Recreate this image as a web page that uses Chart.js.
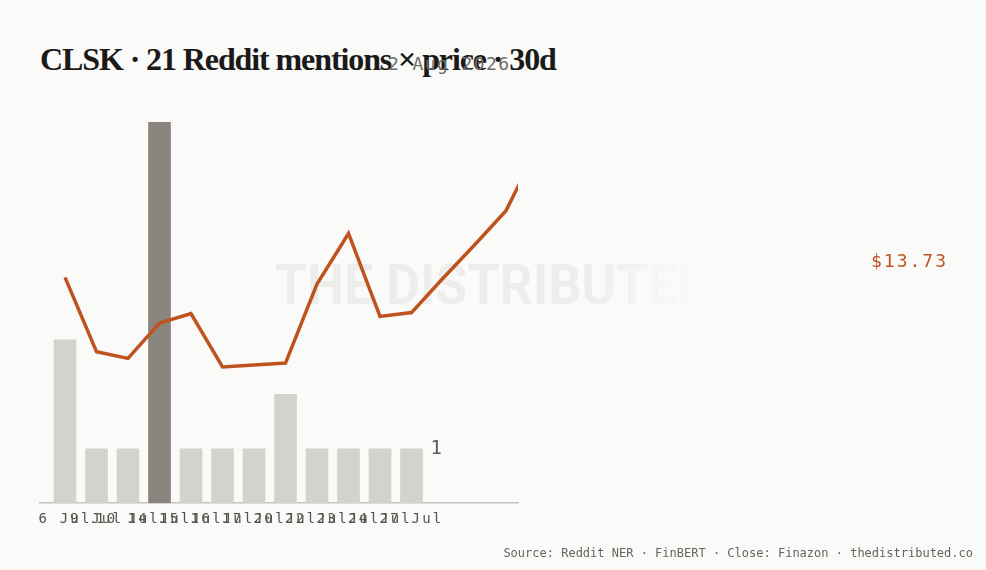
<!DOCTYPE html>
<html>
<head>
<meta charset="utf-8">
<script src="https://cdn.jsdelivr.net/npm/chart.js@4.4.1/dist/chart.umd.min.js"></script>
<style>
  html, body { margin: 0; padding: 0; background: #fafaf8; }
  body { width: 986px; height: 570px; position: relative; overflow: hidden; }
  .title {
    position: absolute; left: 40px; top: 43px; margin: 0;
    font-family: "Liberation Serif", serif; font-weight: 700;
    font-size: 32px; line-height: 32px; letter-spacing: -1.1px; color: #1b1a18;
    white-space: nowrap;
  }
  .date {
    position: absolute; left: 388px; top: 54px;
    font-family: "DejaVu Sans Mono", monospace; font-size: 18px; line-height: 20px;
    letter-spacing: 1.4px; color: #6f6d69; white-space: nowrap;
  }
  .watermark {
    position: absolute; left: 0; width: 986px; top: 257px; text-align: center;
    font-family: Roboto, sans-serif; font-weight: 700; font-size: 56px; line-height: 56px;
    color: rgba(0, 0, 0, 0.05); white-space: nowrap;
    transform: scaleX(0.93);
    -webkit-mask-image: linear-gradient(to right, #000 60%, transparent 72%);
    mask-image: linear-gradient(to right, #000 60%, transparent 72%);
  }
  .last-price {
    position: absolute; left: 871px; top: 250px;
    font-family: "DejaVu Sans Mono", monospace; font-size: 18px; line-height: 22px;
    letter-spacing: 2px; color: #bf5320; white-space: nowrap;
  }
  .source {
    position: absolute; right: 13px; top: 546px;
    font-family: "DejaVu Sans Mono", monospace; font-size: 12px; line-height: 14px;
    color: #66645f; white-space: nowrap;
  }
  .chart-box { position: absolute; left: 0; top: 0; width: 986px; height: 570px; }
</style>
</head>
<body>
<div class="watermark">THE DISTRIBUTED</div>
<h1 class="title">CLSK · 21 Reddit mentions × price · 30d</h1>
<div class="date">2 Aug 2026</div>
<div class="chart-box"><canvas id="mentionsChart"></canvas></div>
<div class="last-price">$13.73</div>
<div class="source">Source: Reddit NER · FinBERT · Close: Finazon · thedistributed.co</div>

<script>
// days that had mentions (x tick labels)
const dayLabels = ['6 Jul', '9 Jul', '10 Jul', '14 Jul', '15 Jul', '16 Jul',
                   '17 Jul', '20 Jul', '22 Jul', '23 Jul', '24 Jul', '27 Jul'];
// mentions per day
const mentionCounts = [3, 1, 1, 7, 1, 1, 1, 2, 1, 1, 1, 1];
// closing price series (runs past the last label)
const closePrices = [12.37, 11.59, 11.52, 11.89, 11.99, 11.43, 11.45, 11.47,
                     12.30, 12.83, 11.96, 12.00, 12.36, 12.71, 13.07, 13.73];

const peak = Math.max(...mentionCounts);
const barColors = mentionCounts.map(v => v === peak ? '#8a857d' : '#d3d2ce');

const tickSpacing = {
    id: 'tickSpacing',
    beforeUpdate(chart) { chart.ctx.letterSpacing = '2.2px'; },
    beforeDraw(chart) { chart.ctx.letterSpacing = '2.2px'; }
};

const lastCount = {
    id: 'lastCount',
    afterDatasetsDraw(chart) {
        const meta = chart.getDatasetMeta(1);
        const bar = meta.data[meta.data.length - 1];
        const ctx = chart.ctx;
        ctx.save();
        ctx.font = '19px "DejaVu Sans Mono", monospace';
        ctx.fillStyle = '#5e5c58';
        ctx.textAlign = 'left';
        ctx.textBaseline = 'middle';
        ctx.fillText(String(mentionCounts[mentionCounts.length - 1]), bar.x + bar.width / 2 + 8, bar.y);
        ctx.restore();
    }
};

const ctx = document.getElementById('mentionsChart');
new Chart(ctx, {
    data: {
        datasets: [{
            type: 'line',
            data: closePrices.map((v, i) => ({ x: i, y: v })),
            yAxisID: 'yPrice',
            borderColor: '#bf5320',
            borderWidth: 3.5,
            pointRadius: 0,
            tension: 0,
            order: 0
        }, {
            type: 'bar',
            data: mentionCounts.map((v, i) => ({ x: i, y: v })),
            yAxisID: 'y',
            backgroundColor: barColors,
            barThickness: 22,
            order: 1
        }]
    },
    options: {
        responsive: true,
        maintainAspectRatio: false,
        animation: false,
        layout: { padding: { left: 40, right: 468, top: 122, bottom: 42 } },
        plugins: { legend: { display: false }, tooltip: { enabled: false } },
        scales: {
            x: {
                type: 'linear',
                offset: false,
                min: -0.794,
                max: 14.381,
                grid: { display: false, offset: false },
                border: { display: true, color: '#c4c3bf', width: 1.5 },
                afterBuildTicks: (scale) => {
                    scale.ticks = dayLabels.map((l, i) => ({ value: i }));
                },
                ticks: {
                    autoSkip: false,
                    maxRotation: 0,
                    padding: 0,
                    color: '#55534f',
                    font: { family: '"DejaVu Sans Mono", monospace', size: 14 },
                    callback: (value) => dayLabels[value]
                }
            },
            y: { display: false, min: 0, max: peak },
            yPrice: { display: false, min: 10, max: 14 }
        }
    },
    plugins: [tickSpacing, lastCount]
});
</script>
</body>
</html>
